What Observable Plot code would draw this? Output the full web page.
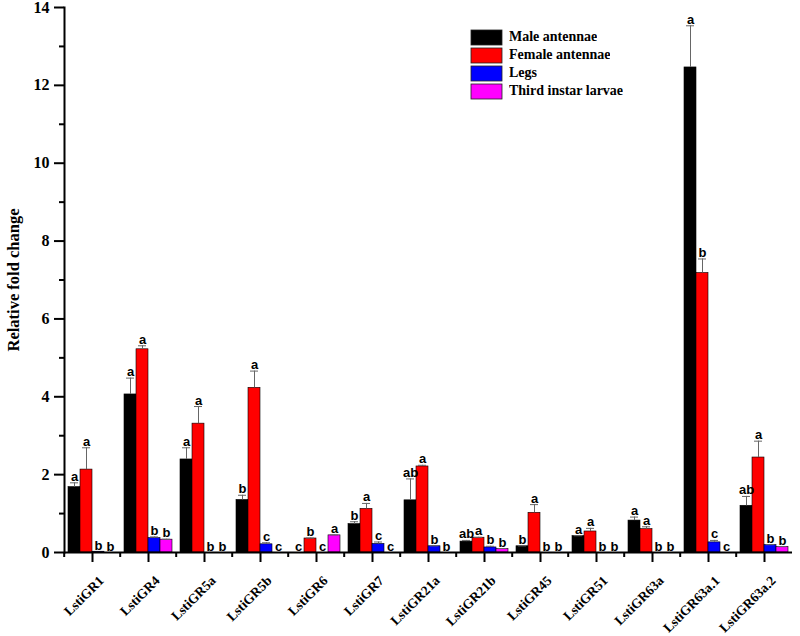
<!DOCTYPE html>
<html><head><meta charset="utf-8">
<script src="https://cdn.jsdelivr.net/npm/d3@7"></script>
<script src="https://cdn.jsdelivr.net/npm/@observablehq/plot@0.6"></script>
<style>
body{margin:0;background:#fff;}
#wrap{position:relative;width:800px;height:636px;}
#legend{position:absolute;left:471px;top:28px;}
#legend > div{height:18px !important;margin:0 !important;padding:0 !important;}
#legend svg rect{stroke:#222;stroke-width:0.8px;}
</style></head><body><div id="wrap"></div>
<script>
const genes = ["LstiGR1","LstiGR4","LstiGR5a","LstiGR5b","LstiGR6","LstiGR7","LstiGR21a","LstiGR21b","LstiGR45","LstiGR51","LstiGR63a","LstiGR63a.1","LstiGR63a.2"];
const series = ["Male antennae","Female antennae","Legs","Third instar larvae"];
const colors = ["#000000","#ff0000","#0000ff","#ff00ff"];

const male      = [1.68, 4.06, 2.39, 1.35, 0,    0.73, 1.34, 0.28, 0.16, 0.42, 0.82, 12.46, 1.20];
const maleErr   = [0.11, 0.42, 0.30, 0.12, 0,    0.06, 0.55, 0.03, 0.01, 0.01, 0.09, 1.07,  0.24];
const female    = [2.13, 5.22, 3.31, 4.23, 0.36, 1.12, 2.21, 0.38, 1.02, 0.54, 0.60, 7.18,  2.44];
const femaleErr = [0.56, 0.09, 0.44, 0.43, 0.01, 0.14, 0.03, 0.01, 0.21, 0.08, 0.06, 0.36,  0.42];
const legs      = [0.02, 0.37, 0,    0.21, 0,    0.22, 0.16, 0.13, 0,    0,    0,    0.26,  0.19];
const legsErr   = [0,    0.03, 0,    0.04, 0,    0.05, 0.01, 0.03, 0,    0,    0,    0.05,  0.01];
const larvae    = [0,    0.33, 0,    0,    0.44, 0,    0,    0.09, 0,    0,    0,    0,     0.14];
const larvaeErr = [0,    0.01, 0,    0,    0.01, 0,    0,    0.01, 0,    0,    0,    0,     0.01];

const maleLetters   = ["a","a","a","b","c","b","ab","ab","b","a","a","a","ab"];
const femaleLetters = ["a","a","a","a","b","a","a","a","a","a","a","b","a"];
const legsLetters   = ["b","b","b","c","c","c","b","b","b","b","b","c","b"];
const larvaeLetters = ["b","b","b","c","a","c","b","b","b","b","b","c","b"];

const majorTicks = [0, 2, 4, 6, 8, 10, 12, 14];
const minorTicks = [1, 3, 5, 7, 9, 11, 13];
const yTitle = "Relative fold change";

const values = [male, female, legs, larvae];
const errors = [maleErr, femaleErr, legsErr, larvaeErr];
const letters = [maleLetters, femaleLetters, legsLetters, larvaeLetters];
const rows = [];
series.forEach((s, k) => genes.forEach((g, i) => rows.push({
  gene: g, series: s, value: values[k][i], err: errors[k][i],
  top: values[k][i] + errors[k][i], letter: letters[k][i]
})));

const W = 800, H = 636, mL = 60, mR = 4, mT = 7, mB = 84;
const band = (W - mL - mR) / genes.length;
const serif = "'Liberation Serif','Times New Roman',serif";
const sans = "'Liberation Sans',Arial,sans-serif";

const plot = Plot.plot({
  width: W, height: H,
  marginLeft: mL, marginRight: mR, marginTop: mT, marginBottom: mB,
  style: {background: "#fff", color: "#000"},
  fx: {domain: genes, padding: 0, label: null},
  x: {domain: series, paddingInner: 0, paddingOuter: 0.25, axis: null},
  y: {domain: [0, 14], axis: null},
  color: {domain: series, range: colors},
  marks: [
    Plot.barY(rows.filter(d => d.value > 0), {fx: "gene", x: "series", y: "value", fill: "series", stroke: "#000", strokeWidth: 0.6}),
    Plot.ruleX(rows.filter(d => d.err > 0), {fx: "gene", x: "series", y1: "value", y2: "top", stroke: "#666", strokeWidth: 1}),
    Plot.tickY(rows.filter(d => d.err > 0), {fx: "gene", x: "series", y: "top", stroke: "#666", strokeWidth: 1, insetLeft: 2, insetRight: 2}),
    Plot.text(rows, {fx: "gene", x: "series", y: "top", text: "letter", lineAnchor: "bottom", dy: -2, fontSize: 13, fontWeight: "bold", fontFamily: sans, fill: "#000"}),
    Plot.ruleY([0], {stroke: "#000", strokeWidth: 2}),
    Plot.frame({anchor: "left", facetAnchor: "left", stroke: "#000", strokeWidth: 2}),
    Plot.axisY({ticks: majorTicks, tickSize: 10, tickPadding: 5, strokeWidth: 2, fontSize: 16, fontWeight: "bold", fontFamily: serif, label: null}),
    Plot.axisY({ticks: minorTicks, tickSize: 5, strokeWidth: 2, text: null, label: null}),
    Plot.text([yTitle], {frameAnchor: "left", facetAnchor: "left", rotate: -90, textAnchor: "middle", lineAnchor: "middle", dx: -51, fontSize: 16.5, fontWeight: "bold", fontFamily: serif, fill: "#000"}),
    Plot.axisFx({anchor: "bottom", tickSize: 10, strokeWidth: 2, text: null, label: null}),
    Plot.axisFx({anchor: "bottom", tickSize: 5, strokeWidth: 2, dx: -band / 2, text: null, label: null}),
    Plot.text(genes, {fx: d => d, text: d => d, frameAnchor: "bottom", rotate: -45, textAnchor: "end", lineAnchor: "middle", dx: 9, dy: 26, fontSize: 13.5, fontWeight: "bold", fontFamily: serif, fill: "#000"})
  ]
});

const legend = Plot.legend({
  color: {domain: series, range: colors},
  swatchWidth: 31, swatchHeight: 15, columns: 1,
  style: {fontFamily: serif, fontSize: "14px", fontWeight: "bold", color: "#000"}
});
legend.id = "legend";

const wrap = document.getElementById("wrap");
wrap.appendChild(plot);
wrap.appendChild(legend);
</script>
</body></html>
